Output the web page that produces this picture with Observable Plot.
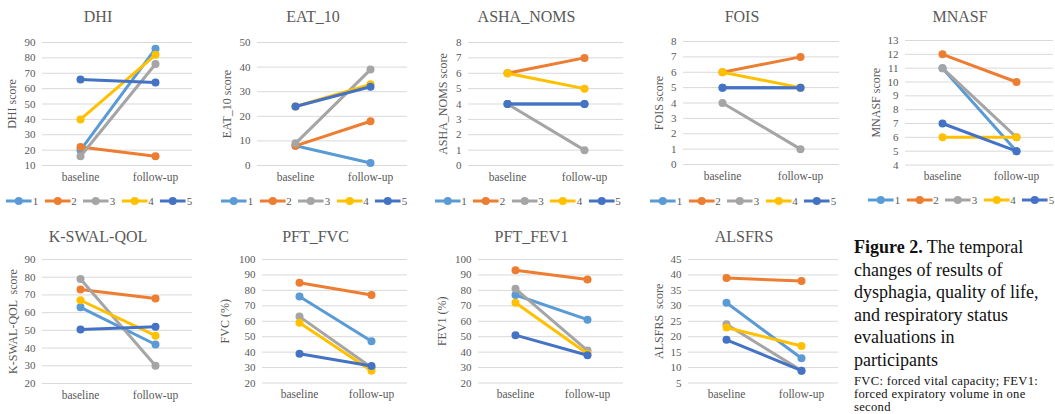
<!DOCTYPE html>
<html><head><meta charset="utf-8">
<script src="https://cdn.jsdelivr.net/npm/d3@7"></script>
<script src="https://cdn.jsdelivr.net/npm/@observablehq/plot@0.6"></script>
<style>
body{margin:0;background:#fff;}
#root{position:relative;width:1055px;height:414px;overflow:hidden;background:#fff;font-family:"Liberation Serif","Times New Roman",serif;}
.title{position:absolute;font-size:16px;line-height:20px;color:#595959;transform:translateX(-50%);white-space:nowrap;}
.legend{position:absolute;display:flex;align-items:center;gap:6px;transform:translate(-50%,-50%);font-size:11px;color:#595959;white-space:nowrap;}
.legend .item{display:flex;align-items:center;gap:1px;}
.caption{position:absolute;left:854px;top:236px;font-size:18px;line-height:22.6px;color:#111;white-space:nowrap;}
.note{position:absolute;left:854px;top:375px;font-size:12.6px;line-height:12.8px;color:#111;white-space:nowrap;letter-spacing:0.3px;}
</style></head><body><div id="root"></div>
<script>
// ---- data ----
const categories = ["baseline", "follow-up"];
const participants = ["1", "2", "3", "4", "5"];
const colors = ["#5B9BD5", "#ED7D31", "#A5A5A5", "#FFC000", "#4472C4"];

const titles = ["DHI", "EAT_10", "ASHA_NOMS", "FOIS", "MNASF", "K-SWAL-QOL", "PFT_FVC", "PFT_FEV1", "ALSFRS"];
const yLabels = ["DHI score", "EAT_10 score", "ASHA_NOMS score", "FOIS score", "MNASF score", "K-SWAL-QOL  score", "FVC (%)", "FEV1 (%)", "ALSFRS  score"];

const dhiTicks = [10, 20, 30, 40, 50, 60, 70, 80, 90];
const eatTicks = [0, 10, 20, 30, 40, 50];
const ashaTicks = [0, 1, 2, 3, 4, 5, 6, 7, 8];
const foisTicks = [0, 1, 2, 3, 4, 5, 6, 7, 8];
const mnasfTicks = [4, 5, 6, 7, 8, 9, 10, 11, 12, 13];
const kswalTicks = [20, 30, 40, 50, 60, 70, 80, 90];
const fvcTicks = [20, 30, 40, 50, 60, 70, 80, 90, 100];
const fev1Ticks = [20, 30, 40, 50, 60, 70, 80, 90, 100];
const alsfrsTicks = [5, 10, 15, 20, 25, 30, 35, 40, 45];

const dhiBaseline = [20, 22, 16, 40, 66];
const dhiFollowup = [86, 16, 76, 82, 64];
const eatBaseline = [8, 8, 9, 24, 24];
const eatFollowup = [1, 18, 39, 33, 32];
const ashaBaseline = [4, 6, 4, 6, 4];
const ashaFollowup = [4, 7, 1, 5, 4];
const foisBaseline = [5, 6, 4, 6, 5];
const foisFollowup = [5, 7, 1, 5, 5];
const mnasfBaseline = [11, 12, 11, 6, 7];
const mnasfFollowup = [5, 10, 6, 6, 5];
const kswalBaseline = [63, 73, 79, 67, 50.5];
const kswalFollowup = [42, 68, 30, 47, 52];
const fvcBaseline = [76, 85, 63, 59, 39];
const fvcFollowup = [47, 77, 30, 28, 31];
const fev1Baseline = [77, 93, 81, 72, 51];
const fev1Followup = [61, 87, 41, 39, 38];
const alsfrsBaseline = [31, 39, 24, 23, 19];
const alsfrsFollowup = [13, 38, 9, 17, 9];

const tickSets = [dhiTicks, eatTicks, ashaTicks, foisTicks, mnasfTicks, kswalTicks, fvcTicks, fev1Ticks, alsfrsTicks];
const baselines = [dhiBaseline, eatBaseline, ashaBaseline, foisBaseline, mnasfBaseline, kswalBaseline, fvcBaseline, fev1Baseline, alsfrsBaseline];
const followups = [dhiFollowup, eatFollowup, ashaFollowup, foisFollowup, mnasfFollowup, kswalFollowup, fvcFollowup, fev1Followup, alsfrsFollowup];

// ---- layout (pixel frame of each panel) ----
const layout = [
  {gl: 42,  gr: 192,  top: 41.5, bot: 164.5, labelDx: -30, legendY: 201, legend: true},
  {gl: 257, gr: 407,  top: 41.5, bot: 164.5, labelDx: -30, legendY: 201, legend: true},
  {gl: 468, gr: 623,  top: 41.5, bot: 164.5, labelDx: -25, legendY: 201, legend: true},
  {gl: 683, gr: 839,  top: 41,   bot: 164,   labelDx: -24, legendY: 201, legend: true},
  {gl: 905, gr: 1053, top: 39.5, bot: 164,   labelDx: -29, legendY: 200, legend: true},
  {gl: 42,  gr: 192,  top: 258.5, bot: 382.5, labelDx: -29, legend: false},
  {gl: 262, gr: 407,  top: 258.5, bot: 382, labelDx: -37, legend: false},
  {gl: 478, gr: 623,  top: 258.5, bot: 382, labelDx: -36, legend: false},
  {gl: 688, gr: 838,  top: 258.5, bot: 382, labelDx: -29, legend: false}
];

const root = document.getElementById("root");

titles.forEach((title, k) => {
  const L = layout[k];
  const ticks = tickSets[k];
  const rows = participants.flatMap((p, i) => [
    {p, cat: categories[0], v: baselines[k][i]},
    {p, cat: categories[1], v: followups[k][i]}
  ]);
  const ml = 48, mr = 8, mt = 30, mb = 30;
  const svgLeft = L.gl - ml;
  const svgTop = L.top - mt;
  const W = (L.gr - L.gl) + ml + mr;
  const H = (L.bot - L.top) + mt + mb;
  const seriesMarks = participants.flatMap(p => {
    const d = rows.filter(r => r.p === p);
    return [
      Plot.line(d, {x: "cat", y: "v", stroke: "p", strokeWidth: 3}),
      Plot.dot(d, {x: "cat", y: "v", fill: "p", r: 4})
    ];
  });
  const chart = Plot.plot({
    width: W, height: H,
    marginLeft: ml, marginRight: mr, marginTop: mt, marginBottom: mb,
    style: {fontFamily: "'Liberation Serif','Times New Roman',serif", fontSize: "11px", color: "#595959", background: "transparent", overflow: "visible"},
    x: {type: "point", domain: categories, padding: 0.5},
    y: {domain: [ticks[0], ticks[ticks.length - 1]]},
    color: {domain: participants, range: colors},
    marks: [
      Plot.gridY(ticks, {stroke: "#d9d9d9", strokeOpacity: 1, strokeWidth: 1}),
      Plot.axisY(ticks, {tickSize: 0, tickPadding: 7, label: null, fontSize: 11}),
      Plot.axisX({tickSize: 0, tickPadding: 7, label: null, fontSize: 11.5}),
      ...seriesMarks,
      Plot.text([yLabels[k]], {text: d => d, frameAnchor: "left", textAnchor: "middle", lineAnchor: "middle", rotate: -90, dx: L.labelDx, fontSize: 12, fill: "#595959"})
    ]
  });
  chart.style.position = "absolute";
  chart.style.left = svgLeft + "px";
  chart.style.top = svgTop + "px";
  root.appendChild(chart);

  const cx = (L.gl + L.gr) / 2 - 19;
  const t = document.createElement("div");
  t.className = "title";
  t.textContent = title;
  t.style.left = cx + "px";
  t.style.top = (L.top < 100 ? 7 : 227) + "px";
  root.appendChild(t);

  if (L.legend) {
    const lg = document.createElement("div");
    lg.className = "legend";
    lg.style.left = (cx + 1) + "px";
    lg.style.top = L.legendY + "px";
    participants.forEach((p, i) => {
      const it = document.createElement("div");
      it.className = "item";
      it.innerHTML = `<svg width="26" height="10"><line x1="0" x2="26" y1="5" y2="5" stroke="${colors[i]}" stroke-width="3"/><circle cx="13" cy="5" r="4" fill="${colors[i]}"/></svg><span>${p}</span>`;
      lg.appendChild(it);
    });
    root.appendChild(lg);
  }
});

const cap = document.createElement("div");
cap.className = "caption";
cap.innerHTML = "<b>Figure 2.</b> The temporal<br>changes of results of<br>dysphagia, quality of life,<br>and respiratory status<br>evaluations in<br>participants";
root.appendChild(cap);

const note = document.createElement("div");
note.className = "note";
note.innerHTML = "FVC: forced vital capacity; FEV1:<br>forced expiratory volume in one<br>second";
root.appendChild(note);
</script></body></html>
